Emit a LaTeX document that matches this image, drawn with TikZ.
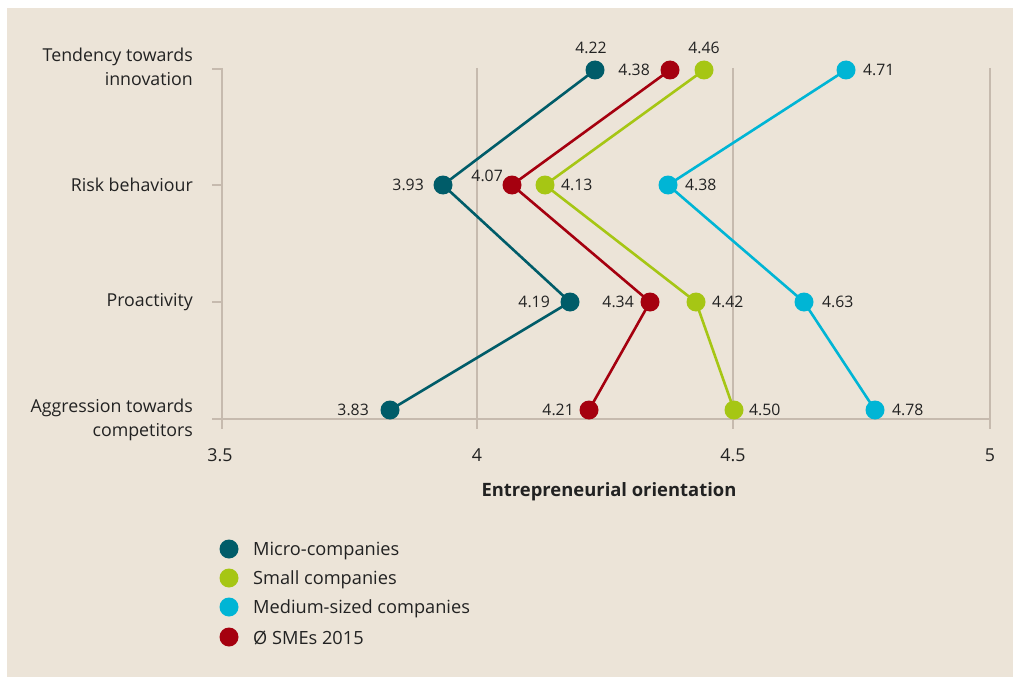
\documentclass[tikz,border=0pt]{standalone}
\usepackage{fontspec}
\setmainfont{Open Sans}
\definecolor{bgc}{HTML}{ECE4D8}
\definecolor{gridc}{HTML}{C6BAAE}
\definecolor{txt}{HTML}{222222}
\definecolor{teal}{HTML}{005C69}
\definecolor{lime}{HTML}{A6C614}
\definecolor{cyanc}{HTML}{00B5D5}
\definecolor{redc}{HTML}{A5000F}
\begin{document}
\begin{tikzpicture}[x=1pt,y=-1pt,
  lbl/.style={font=\fontsize{17.8}{24}\selectfont, text=txt, inner sep=0pt},
  leg/.style={font=\fontsize{18.2}{24}\selectfont, text=txt, inner sep=0pt},
  val/.style={font=\fontsize{15.8}{19}\selectfont, text=txt, inner sep=0pt},
  gridln/.style={draw=gridc, line width=1.3pt},
  dot/.style={circle, fill=#1, inner sep=0pt, minimum size=19pt},
  ser/.style={draw=#1, line width=2.6pt},
]
\useasboundingbox (0,0) rectangle (1013,677);
\fill[bgc] (7,8) rectangle (1013,677);

% grid and axes
\draw[gridln] (222,68) -- (222,429);
\draw[gridln] (477,68) -- (477,429);
\draw[gridln] (733,68) -- (733,429);
\draw[gridln] (990,68) -- (990,429);
\draw[gridln] (212,419) -- (990,419);
\draw[gridln] (212,69) -- (222,69);
\draw[gridln] (212,185) -- (222,185);
\draw[gridln] (212,302) -- (222,302);

% category labels
\node[lbl, anchor=east, align=right] (cat1) at (193,67) {Tendency towards\\innovation};
\node[lbl, anchor=east] (cat2) at (193,185) {Risk behaviour};
\node[lbl, anchor=east] (cat3) at (193,302) {Proactivity};
\node[lbl, anchor=east, align=right] (cat4) at (193,420) {Aggression towards\\competitors};

% tick labels
\node[lbl] (t1) at (220,455) {3.5};
\node[lbl] (t2) at (477,455) {4};
\node[lbl] (t3) at (733,455) {4.5};
\node[lbl] (t4) at (990,455) {5};
\node[lbl, font=\fontsize{18.4}{24}\selectfont\bfseries] (xt) at (609,492) {Entrepreneurial orientation};

% data coordinates
\coordinate (m1) at (595,70); \coordinate (m2) at (443,185); \coordinate (m3) at (570,302); \coordinate (m4) at (390,410);
\coordinate (r1) at (670,70); \coordinate (r2) at (512,185); \coordinate (r3) at (650,302); \coordinate (r4) at (589,410);
\coordinate (g1) at (704,70); \coordinate (g2) at (545,185); \coordinate (g3) at (696,302); \coordinate (g4) at (734,410);
\coordinate (c1) at (846,70); \coordinate (c2) at (668,185); \coordinate (c3) at (804,302); \coordinate (c4) at (875,410);

% series lines
\draw[ser=teal] (m1) -- (m2) -- (m3) -- (m4);
\draw[ser=redc] (r1) -- (r2) -- (r3) -- (r4);
\draw[ser=lime] (g1) -- (g2) -- (g3) -- (g4);
\draw[ser=cyanc] (c1) -- (c2) -- (c3) -- (c4);

% dots
\foreach \p in {m1,m2,m3,m4} \node[dot=teal] (\p d) at (\p) {};
\foreach \p in {r1,r2,r3,r4} \node[dot=redc] (\p d) at (\p) {};
\foreach \p in {g1,g2,g3,g4} \node[dot=lime] (\p d) at (\p) {};
\foreach \p in {c1,c2,c3,c4} \node[dot=cyanc] (\p d) at (\p) {};

% value labels
\node[val] (vm1) at (591,48) {4.22};
\node[val, anchor=east] (vm2) at (424,185) {3.93};
\node[val, anchor=east] (vm3) at (550,302) {4.19};
\node[val, anchor=east] (vm4) at (369,410) {3.83};
\node[val, anchor=east] (vr1) at (650,70) {4.38};
\node[val, anchor=east] (vr2) at (503,176) {4.07};
\node[val, anchor=east] (vr3) at (634,302) {4.34};
\node[val, anchor=east] (vr4) at (574,410) {4.21};
\node[val] (vg1) at (704,48) {4.46};
\node[val, anchor=west] (vg2) at (561,185) {4.13};
\node[val, anchor=west] (vg3) at (712,302) {4.42};
\node[val, anchor=west] (vg4) at (749,410) {4.50};
\node[val, anchor=west] (vc1) at (863,70) {4.71};
\node[val, anchor=west] (vc2) at (685,185) {4.38};
\node[val, anchor=west] (vc3) at (822,302) {4.63};
\node[val, anchor=west] (vc4) at (892,410) {4.78};

% legend
\node[dot=teal] (l1) at (229,549) {};
\node[dot=lime] (l2) at (229,578) {};
\node[dot=cyanc] (l3) at (229,607) {};
\node[dot=redc] (l4) at (229,637) {};
\node[leg, anchor=west] (lt1) at (253,551) {Micro-companies};
\node[leg, anchor=west] (lt2) at (253,580) {Small companies};
\node[leg, anchor=west] (lt3) at (253,609) {Medium-sized companies};
\node[leg, anchor=west] (lt4) at (253,638) {Ø SMEs 2015};
\end{tikzpicture}
\end{document}
